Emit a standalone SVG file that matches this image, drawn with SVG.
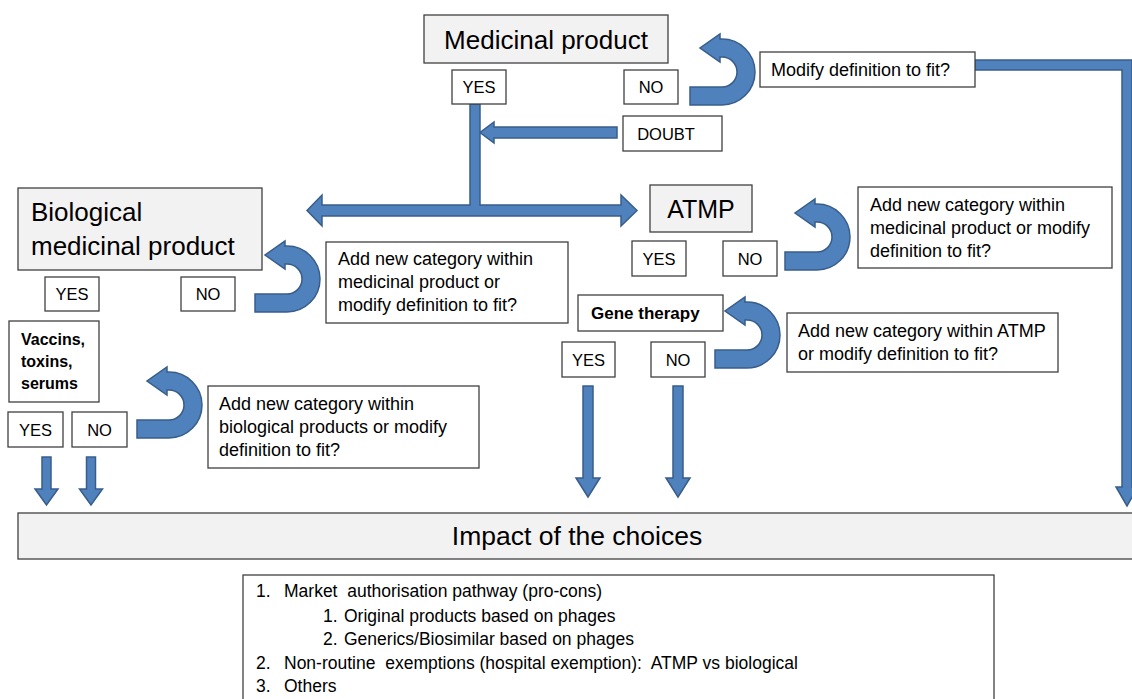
<svg xmlns="http://www.w3.org/2000/svg" xmlns:xlink="http://www.w3.org/1999/xlink" width="1132" height="699" viewBox="0 0 1132 699">
<style>
.box{fill:#fff;stroke:#404040;stroke-width:1.3}
.gbox{fill:#f2f2f2;stroke:#404040;stroke-width:1.3}
.arr{fill:#4f81bd;stroke:#385d8a;stroke-width:1.5;stroke-linejoin:miter}
text{font-family:"Liberation Sans",Arial,sans-serif;fill:#000;font-size:18px}
.yn{font-size:16.5px;text-anchor:middle}
.big{font-size:26px}
.mid{text-anchor:middle}
.b{font-weight:bold;font-size:16px}
.li{font-size:17.5px;white-space:pre}
</style>
<defs>
<path id="uturn" d="M -32 15 L 0 15 A 15 15 0 0 0 0 -15 L -2 -15 L -2 -10 L -22 -24 L -2 -38 L -2 -33 L 0 -33 A 33 33 0 0 1 0 33 L -32 33 Z"/>
</defs>
<rect width="1132" height="699" fill="#fff"/>

<g id="connectors">
  <use xlink:href="#uturn" href="#uturn" class="arr" transform="translate(722,72)"/>
  <use xlink:href="#uturn" href="#uturn" class="arr" transform="translate(287,279)"/>
  <use xlink:href="#uturn" href="#uturn" class="arr" transform="translate(817,237)"/>
  <use xlink:href="#uturn" href="#uturn" class="arr" transform="translate(747,335)"/>
  <use xlink:href="#uturn" href="#uturn" class="arr" transform="translate(169,405)"/>
  <path class="arr" d="M 975 60 L 1132 60 L 1132 487 L 1138 487 L 1127 506 L 1116 487 L 1122 487 L 1122 70 L 975 70 Z"/>
  <path class="arr" d="M 617 127 L 494 127 L 494 122 L 480 132.5 L 494 143 L 494 138 L 617 138 Z"/>
  <path class="arr" d="M 307 210.5 L 322 195 L 322 205 L 470 205 L 470 104 L 480 104 L 480 205 L 621 205 L 621 195 L 637 210.5 L 621 226 L 621 216 L 322 216 L 322 226 Z"/>
  <path class="arr" d="M 583 386 L 593 386 L 593 478 L 600 478 L 588 497 L 576 478 L 583 478 Z"/>
  <path class="arr" d="M 673 386 L 683 386 L 683 478 L 690 478 L 678 497 L 666 478 L 673 478 Z"/>
  <path class="arr" d="M 42 457 L 51 457 L 51 489 L 58 489 L 46.5 505 L 35 489 L 42 489 Z"/>
  <path class="arr" d="M 86.5 457 L 95.5 457 L 95.5 489 L 102.5 489 L 91 505 L 79.5 489 L 86.5 489 Z"/>
</g>

<g id="medicinal-product">
  <rect class="gbox" x="424" y="15" width="244" height="48"/>
  <text class="big mid" x="546" y="49">Medicinal product</text>
</g>
<g id="mp-yes"><rect class="box" x="452" y="70" width="54" height="34"/><text class="yn" x="479" y="93">YES</text></g>
<g id="mp-no"><rect class="box" x="624" y="70" width="54" height="34"/><text class="yn" x="651" y="93">NO</text></g>
<g id="mp-doubt"><rect class="box" x="623" y="116" width="99" height="35"/><text class="yn" x="666" y="139.5">DOUBT</text></g>
<g id="mp-modify"><rect class="box" x="760" y="52" width="215" height="35"/><text x="771" y="75.5">Modify definition to fit?</text></g>

<g id="biological">
  <rect class="gbox" x="18" y="188" width="244" height="82"/>
  <text class="big" x="31" y="221">Biological</text>
  <text class="big" x="31" y="255">medicinal product</text>
</g>
<g id="bio-yes"><rect class="box" x="45" y="277" width="54" height="34"/><text class="yn" x="72" y="300">YES</text></g>
<g id="bio-no"><rect class="box" x="181" y="277" width="54" height="34"/><text class="yn" x="208" y="300">NO</text></g>
<g id="bio-add">
  <rect class="box" x="326" y="242" width="242" height="81"/>
  <text x="338" y="265">Add new category within</text>
  <text x="338" y="288">medicinal product or</text>
  <text x="338" y="311">modify definition to fit?</text>
</g>

<g id="atmp">
  <rect class="gbox" x="650" y="185" width="102" height="47"/>
  <text class="mid" style="font-size:25px" x="701" y="218">ATMP</text>
</g>
<g id="atmp-yes"><rect class="box" x="632" y="241" width="54" height="35"/><text class="yn" x="659" y="264.5">YES</text></g>
<g id="atmp-no"><rect class="box" x="723" y="241" width="54" height="35"/><text class="yn" x="750" y="264.5">NO</text></g>
<g id="atmp-add">
  <rect class="box" x="858" y="187" width="254" height="81"/>
  <text x="870" y="211">Add new category within</text>
  <text x="870" y="234">medicinal product or modify</text>
  <text x="870" y="257">definition to fit?</text>
</g>

<g id="gene-therapy">
  <rect class="box" x="578" y="295" width="145" height="36"/>
  <text class="b" style="font-size:17px" x="591" y="319">Gene therapy</text>
</g>
<g id="gene-yes"><rect class="box" x="562" y="342" width="53" height="35"/><text class="yn" x="588.5" y="365.5">YES</text></g>
<g id="gene-no"><rect class="box" x="651" y="342" width="54" height="35"/><text class="yn" x="678" y="365.5">NO</text></g>
<g id="gene-add">
  <rect class="box" x="787" y="313" width="271" height="59"/>
  <text x="798" y="337">Add new category within ATMP</text>
  <text x="798" y="360">or modify definition to fit?</text>
</g>

<g id="vaccins">
  <rect class="box" x="9" y="321" width="90" height="81"/>
  <text class="b" x="21" y="345">Vaccins,</text>
  <text class="b" x="21" y="367">toxins,</text>
  <text class="b" x="21" y="389">serums</text>
</g>
<g id="vac-yes"><rect class="box" x="8" y="412" width="55" height="35"/><text class="yn" x="35.5" y="435.5">YES</text></g>
<g id="vac-no"><rect class="box" x="72" y="412" width="55" height="35"/><text class="yn" x="99.5" y="435.5">NO</text></g>
<g id="vac-add">
  <rect class="box" x="208" y="386" width="271" height="82"/>
  <text x="219" y="410">Add new category within</text>
  <text x="219" y="433">biological products or modify</text>
  <text x="219" y="456">definition to fit?</text>
</g>

<g id="impact">
  <rect class="gbox" x="18" y="513" width="1130" height="46"/>
  <text class="mid" style="font-size:26.5px" x="577" y="545">Impact of the choices</text>
</g>

<g id="list">
  <rect class="box" x="243" y="575" width="751" height="140"/>
  <text class="li" x="256" y="597">1.</text><text class="li" x="284" y="597" xml:space="preserve">Market  authorisation pathway (pro-cons)</text>
  <text class="li" x="323" y="622">1.</text><text class="li" x="344" y="622">Original products based on phages</text>
  <text class="li" x="323" y="645">2.</text><text class="li" x="344" y="645">Generics/Biosimilar based on phages</text>
  <text class="li" x="256" y="669">2.</text><text class="li" x="284" y="669" xml:space="preserve">Non-routine  exemptions (hospital exemption):  ATMP vs biological</text>
  <text class="li" x="256" y="692">3.</text><text class="li" x="284" y="692">Others</text>
</g>
</svg>
